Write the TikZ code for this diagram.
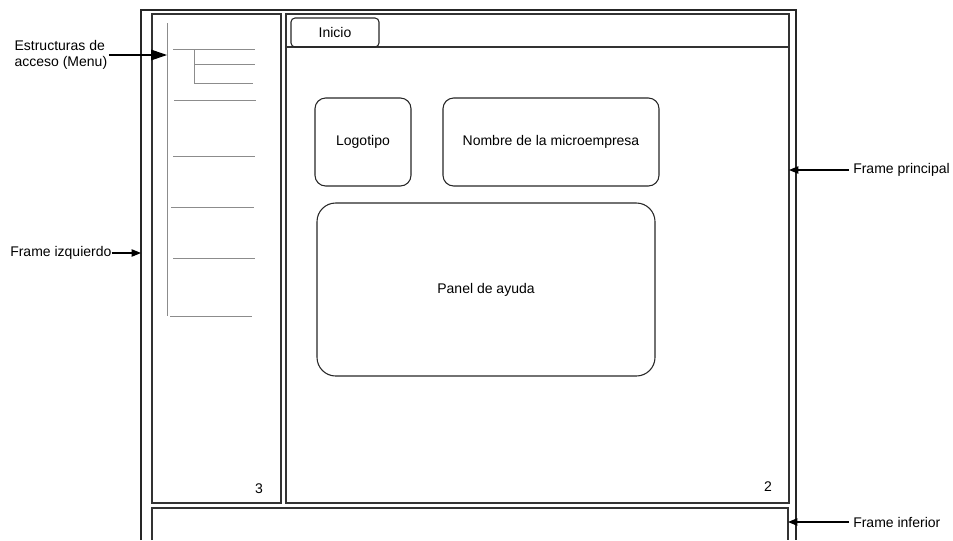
\documentclass[tikz,border=0pt]{standalone}
\usepackage{fontspec}
\setmainfont{Liberation Sans}
\usetikzlibrary{arrows.meta}

\tikzset{
  outerline/.style={draw=black!85,line width=1pt},
  framebox/.style={draw=black!80,line width=0.9pt},
  menuline/.style={draw=black!45,line width=0.6pt},
  rbox/.style={draw=black!85,line width=0.8pt,rounded corners=8pt,align=center,font=\fontsize{10.5}{12.5}\selectfont},
  lbl/.style={font=\fontsize{10.5}{12.5}\selectfont,inner sep=3pt},
  pointer/.style={-{Triangle[length=7pt,width=5.5pt]},line width=0.8pt},
}

\begin{document}
\begin{tikzpicture}[x=0.75pt,y=-0.75pt]
    \useasboundingbox (0,0) rectangle (953,540);

    % Outer frame
    \draw[outerline] (141,540) -- (141,10) -- (796,10) -- (796,540);

    % Frames
    \draw[framebox] (152,14) rectangle (281,503);
    \draw[framebox] (286,14) rectangle (789,503);
    \draw[framebox] (286,47) -- (789,47);
    \draw[framebox] (152,540) -- (152,508) -- (788,508) -- (788,540);

    % Menu tree
    \draw[menuline] (167,23) -- (167,316);
    \draw[menuline] (173,49) -- (255,49);
    \draw[menuline] (194,49) -- (194,83);
    \draw[menuline] (194,64) -- (255,64);
    \draw[menuline] (194,83) -- (253,83);
    \foreach \y/\a/\b in {100/174/256,156/173/255,207/171/254,258/173/255,316/170/252}
        \draw[menuline] (\a,\y) -- (\b,\y);

    % Tab and boxes
    \node[rbox,rounded corners=3pt,minimum width=66pt,minimum height=21.75pt] (inicio) at (335,32.5) {Inicio};
    \node[rbox,minimum width=72pt,minimum height=66pt] (logo) at (363,142) {Logotipo};
    \node[rbox,minimum width=162pt,minimum height=66pt] (nombre) at (551,142) {Nombre de la microempresa};
    \node[rbox,rounded corners=14pt,minimum width=253.5pt,minimum height=129.75pt] (panel) at (486,289.5) {Panel de ayuda};

    % Frame numbers
    \node[lbl] (num3) at (259,489) {3};
    \node[lbl] (num2) at (768,487) {2};

    % Pointers
    \coordinate (menuTip) at (167,55);
    \coordinate (leftTip) at (141,253);
    \coordinate (mainTip) at (789,170);
    \coordinate (bottomTip) at (788,522);

    \node[lbl,align=left,anchor=west,inner sep=1pt] (lblMenu) at (13,55) {Estructuras de\\acceso (Menu)};
    \draw[pointer,-{Triangle[length=12pt,width=8pt]}] (lblMenu.east) -- (menuTip);

    \node[lbl,anchor=west,inner sep=0pt] (lblLeft) at (10,253) {Frame izquierdo};
    \draw[pointer] (lblLeft.east) -- (leftTip);

    \node[lbl,anchor=west] (lblMain) at (849,170) {Frame principal};
    \draw[pointer] (lblMain.west) -- (mainTip);

    \node[lbl,anchor=west] (lblBottom) at (849,522) {Frame inferior};
    \draw[pointer] (lblBottom.west) -- (bottomTip);
\end{tikzpicture}
\end{document}
